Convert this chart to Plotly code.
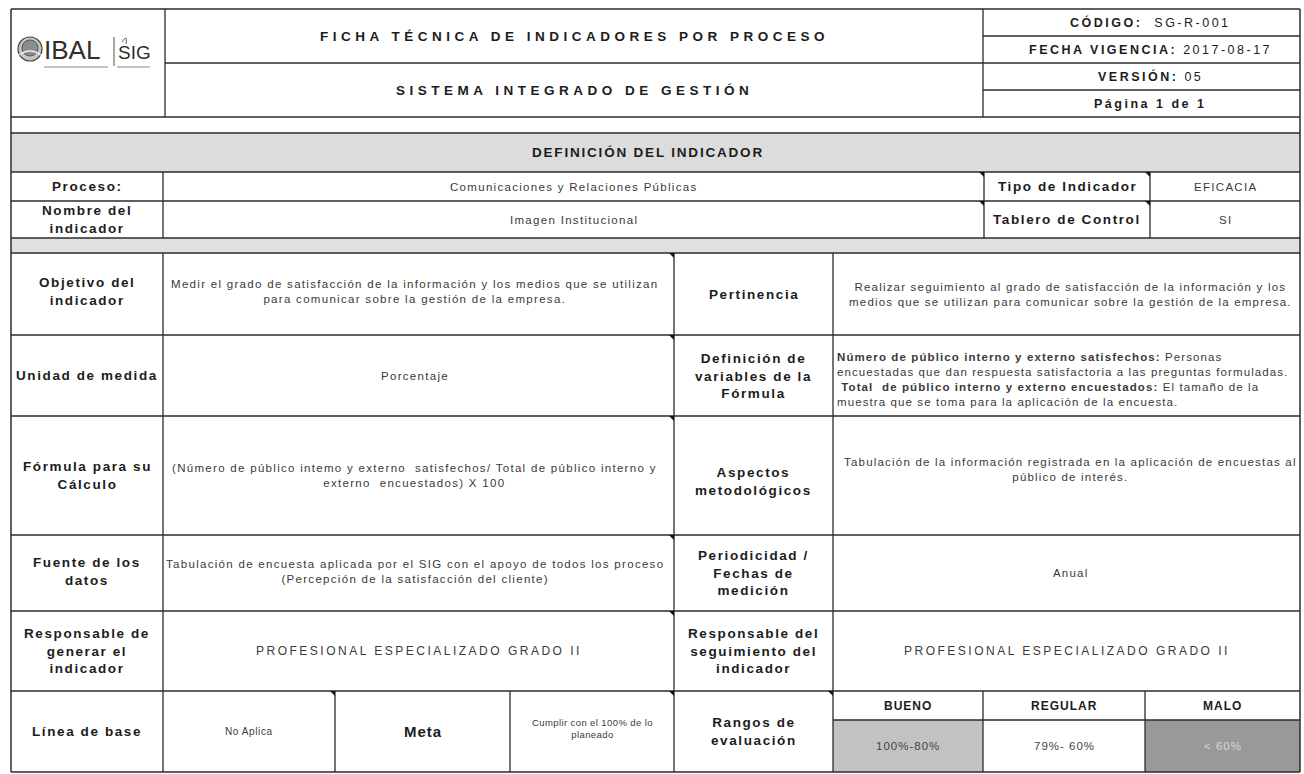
import plotly.graph_objects as go

W, H = 1304, 774

# ---------------- content (text values) ----------------
header_titles = ["FICHA TÉCNICA DE INDICADORES POR PROCESO", "SISTEMA INTEGRADO DE GESTIÓN"]
doc_keys = ["CÓDIGO:", "FECHA VIGENCIA:", "VERSIÓN:", "Página 1 de 1"]
doc_vals = [" SG-R-001", "2017-08-17", "05", ""]
section_title = "DEFINICIÓN DEL INDICADOR"

top_labels = ["Proceso:", "Nombre del<br>indicador"]
top_values = ["Comunicaciones y Relaciones Públicas", "Imagen Institucional"]
top_right_labels = ["Tipo de Indicador", "Tablero de Control"]
top_right_values = ["EFICACIA", "SI"]

left_labels = ["Objetivo del<br>indicador", "Unidad de medida", "Fórmula para su<br>Cálculo",
               "Fuente de los<br>datos", "Responsable de<br>generar el<br>indicador"]
left_values = [
    "Medir el grado de satisfacción de la información y los medios que se utilizan<br>para comunicar sobre la gestión de la empresa.",
    "Porcentaje",
    "(Número de público intemo y externo  satisfechos/ Total de público interno y<br>externo  encuestados) X 100",
    "Tabulación de encuesta aplicada por el SIG con el apoyo de todos los proceso<br>(Percepción de la satisfacción del cliente)",
    "PROFESIONAL ESPECIALIZADO GRADO II",
]
right_labels = ["Pertinencia", "Definición de<br>variables de la<br>Fórmula", "Aspectos<br>metodológicos",
                "Periodicidad /<br>Fechas de<br>medición", "Responsable del<br>seguimiento del<br>indicador"]
right_values = [
    "Realizar seguimiento al grado de satisfacción de la información y los<br>medios que se utilizan para comunicar sobre la gestión de la empresa.",
    "<b>Número de público interno y externo satisfechos:</b> Personas<br>encuestadas que dan respuesta satisfactoria a las preguntas formuladas.<br> <b>Total  de público interno y externo encuestados:</b> El tamaño de la<br>muestra que se toma para la aplicación de la encuesta.",
    "Tabulación de la información registrada en la aplicación de encuestas al<br>público de interés.",
    "Anual",
    "PROFESIONAL ESPECIALIZADO GRADO II",
]
baseline_label = "Línea de base"
baseline_value = "No Aplica"
meta_label = "Meta"
meta_value = "Cumplir con el 100% de lo<br>planeado"
range_label = "Rangos de<br>evaluación"
range_names = ["BUENO", "REGULAR", "MALO"]
range_values = ["100%-80%", "79%- 60%", "< 60%"]

# ---------------- geometry / style ----------------
X0, X1 = 11, 1300
XLOGO, XINFO = 165, 983
XL, XM, XR = 163, 674, 833
XT1, XT2 = 984, 1150
XB1, XB2 = 335, 510
XG1, XG2 = 983, 1145
HY = [9, 36, 63, 90, 117]
Y_SEC0, Y_SEC1 = 133, 172
Y_TOP = [172, 201, 238]
Y_GAP1 = 253
Y_ROWS = [253, 335, 416, 535, 611, 691]
Y_SUB = 720
Y_END = 772
LINE = "#2b2b2b"
LW = 1.3
FONT = "Liberation Sans, Arial, sans-serif"
LBL = "#1c1c1c"
TXT = "#3a3a3a"
range_fills = ["#c2c2c2", "#ffffff", "#999999"]

LBL_SIZE, LBL_LS = 13.5, 1.6
TXT_SIZE, TXT_LS = 11.5, 1.3

shapes = []
anns = []


def hline(x0, x1, y, w=LW, color=LINE):
    shapes.append(dict(type="line", x0=x0, x1=x1, y0=y, y1=y, xref="x", yref="y",
                       line=dict(color=color, width=w)))


def vline(x, y0, y1, w=LW, color=LINE):
    shapes.append(dict(type="line", x0=x, x1=x, y0=y0, y1=y1, xref="x", yref="y",
                       line=dict(color=color, width=w)))


def rect(x0, y0, x1, y1, fill):
    shapes.append(dict(type="rect", x0=x0, x1=x1, y0=y0, y1=y1, xref="x", yref="y",
                       line=dict(width=0), fillcolor=fill, layer="below"))


def tri(x, y, s=5):
    shapes.append(dict(type="path", path=f"M {x - s},{y} L {x},{y} L {x},{y + s} Z",
                       xref="x", yref="y", fillcolor="#111", line=dict(width=0)))


def sp(text, ls):
    lines = text.split("<br>")
    return "<br>".join(f'<span style="letter-spacing:{ls}px">{ln}</span>' for ln in lines)


def ann(x, y, text, size=TXT_SIZE, bold=False, ls=TXT_LS, color=TXT, xanchor="center", align="center"):
    anns.append(dict(x=x, y=y, xref="x", yref="y", text=sp(text, ls), showarrow=False,
                     xanchor=xanchor, yanchor="middle", align=align,
                     font=dict(family=FONT, size=size, color=color,
                               weight="bold" if bold else "normal")))


def label(x, y, text):
    ann(x, y, text, size=LBL_SIZE, bold=True, ls=LBL_LS, color=LBL)


# ---------------- fills ----------------
rect(X0, Y_SEC0, X1, Y_SEC1, "#dcdcdc")
rect(X0, Y_TOP[2], X1, Y_GAP1, "#e0e0e0")
xs_r = [XR, XG1, XG2, X1]
for i, f in enumerate(range_fills):
    rect(xs_r[i], Y_SUB, xs_r[i + 1], Y_END, f)

# ---------------- header box ----------------
hline(X0, X1, HY[0], 1.5)
hline(X0, X1, HY[4], 1.5)
vline(X0, HY[0], Y_END, 1.5)
vline(X1, HY[0], Y_END, 1.5)
vline(XLOGO, HY[0], HY[4])
vline(XINFO, HY[0], HY[4])
hline(XLOGO, X1, HY[2])
hline(XINFO, X1, HY[1])
hline(XINFO, X1, HY[3])

# logo
shapes.append(dict(type="circle", x0=18, x1=42, y0=37, y1=61, xref="x", yref="y",
                   line=dict(color="#444", width=1.2), fillcolor="#c4c4c4"))
shapes.append(dict(type="circle", x0=22, x1=38, y0=40, y1=56, xref="x", yref="y",
                   line=dict(color="#555", width=1), fillcolor="#8c8c8c"))
shapes.append(dict(type="path", path="M 19,55 Q 30,47 41,55", xref="x", yref="y",
                   line=dict(color="#eeeeee", width=1.3)))
vline(114, 37, 66, 1, "#555")
hline(44, 108, 67, 1.5, "#b0b0b0")
hline(117, 150, 67, 1.5, "#b0b0b0")
anns.append(dict(x=42, y=50, xref="x", yref="y", text="IBAL", showarrow=False, xanchor="left",
                 yanchor="middle", font=dict(family=FONT, size=26, color="#2e2e2e")))
anns.append(dict(x=116, y=52, xref="x", yref="y", text="SIG", showarrow=False, xanchor="left",
                 yanchor="middle", font=dict(family=FONT, size=19, color="#2e2e2e")))
shapes.append(dict(type="path", path="M 122,42 Q 128,33 126,44", xref="x", yref="y",
                   line=dict(color="#666", width=1)))

# header texts
ann((XLOGO + XINFO) / 2, (HY[0] + HY[2]) / 2, header_titles[0], size=13.5, bold=True, ls=4.5, color=LBL)
ann((XLOGO + XINFO) / 2, (HY[2] + HY[4]) / 2, header_titles[1], size=13.5, bold=True, ls=4.5, color=LBL)
for i in range(4):
    k, v = doc_keys[i], doc_vals[i]
    txt = f"<b>{k}</b> {v}" if v else f"<b>{k}</b>"
    ann(1150, (HY[i] + HY[i + 1]) / 2, txt, size=12.5, ls=2.5, color=LBL)

# ---------------- table lines ----------------
hline(X0, X1, Y_SEC0, 1.5)
hline(X0, X1, Y_SEC1)
hline(X0, X1, Y_TOP[1])
hline(X0, X1, Y_TOP[2])
for y in Y_ROWS:
    hline(X0, X1, y)
hline(X0, X1, Y_END, 1.5)
vline(XL, Y_SEC1, Y_TOP[2])
vline(XT1, Y_SEC1, Y_TOP[2])
vline(XT2, Y_SEC1, Y_TOP[2])
vline(XL, Y_GAP1, Y_END)
vline(XM, Y_GAP1, Y_END)
vline(XR, Y_GAP1, Y_END)
vline(XB1, Y_ROWS[5], Y_END)
vline(XB2, Y_ROWS[5], Y_END)
vline(XG1, Y_ROWS[5], Y_END)
vline(XG2, Y_ROWS[5], Y_END)
hline(XR, X1, Y_SUB)

for (x, y) in [(XT1, Y_TOP[0]), (XT2, Y_TOP[0]), (XT1, Y_TOP[1]), (XT2, Y_TOP[1]),
               (XM, Y_ROWS[0]), (XM, Y_ROWS[1]), (XM, Y_ROWS[2]), (XM, Y_ROWS[3]),
               (XM, Y_ROWS[4]), (XM, Y_ROWS[5]), (XB1, Y_ROWS[5]), (XR, Y_ROWS[5])]:
    tri(x, y)

# ---------------- table texts ----------------
ann(648, (Y_SEC0 + Y_SEC1) / 2, section_title, size=13.5, bold=True, ls=1.8, color=LBL)
for i in range(2):
    yc = (Y_TOP[i] + Y_TOP[i + 1]) / 2
    label((X0 + XL) / 2, yc, top_labels[i])
    ann((XL + XT1) / 2, yc, top_values[i])
    label((XT1 + XT2) / 2, yc, top_right_labels[i])
    ann((XT2 + X1) / 2, yc, top_right_values[i])

row_shift_l = [-3, 0, 0, -2, 0]
row_shift_r = [0, 0, 6, 0, 0]
val_shift_r = [0, 0, -6, 0, 0]
for i in range(5):
    yc = (Y_ROWS[i] + Y_ROWS[i + 1]) / 2
    label((X0 + XL) / 2, yc + row_shift_l[i], left_labels[i])
    if i == 4:
        ann((XL + XM) / 2, yc, left_values[i], size=12, ls=2.5)
    else:
        ann((XL + XM) / 2 - 4, yc + row_shift_l[i], left_values[i])
    label((XM + XR) / 2, yc + row_shift_r[i], right_labels[i])
    if i == 1:
        ann(XR + 2, yc + 4, right_values[i], xanchor="left", align="left", ls=1.1)
    elif i == 4:
        ann((XR + X1) / 2, yc, right_values[i], size=12, ls=2.5)
    else:
        ann((XR + X1) / 2 + 4, yc + val_shift_r[i], right_values[i], ls=1.2)

yc = (Y_ROWS[5] + Y_END) / 2
label((X0 + XL) / 2, yc, baseline_label)
ann((XL + XB1) / 2, yc, baseline_value, size=10, ls=0.6)
ann((XB1 + XB2) / 2, yc, meta_label, size=15, bold=True, ls=1, color=LBL)
ann((XB2 + XM) / 2, yc - 3, meta_value, size=9.5, ls=0.4)
label((XM + XR) / 2, yc, range_label)
for i in range(3):
    ann((xs_r[i] + xs_r[i + 1]) / 2, (Y_ROWS[5] + Y_SUB) / 2, range_names[i], size=12, bold=True, ls=1, color=LBL)
    ann((xs_r[i] + xs_r[i + 1]) / 2, (Y_SUB + Y_END) / 2, range_values[i], size=11.5, ls=1,
        color="#444" if i < 2 else "#d8d8d8")

fig = go.Figure()
fig.update_layout(
    width=W, height=H, margin=dict(l=0, r=0, t=0, b=0),
    paper_bgcolor="white", plot_bgcolor="white", showlegend=False,
    xaxis=dict(range=[0, W], visible=False, fixedrange=True),
    yaxis=dict(range=[H, 0], visible=False, fixedrange=True),
    shapes=shapes, annotations=anns,
)
fig.write_html("out.html", config={"displayModeBar": False},
               post_script="document.body.style.margin='0px';document.body.style.overflow='hidden';")
